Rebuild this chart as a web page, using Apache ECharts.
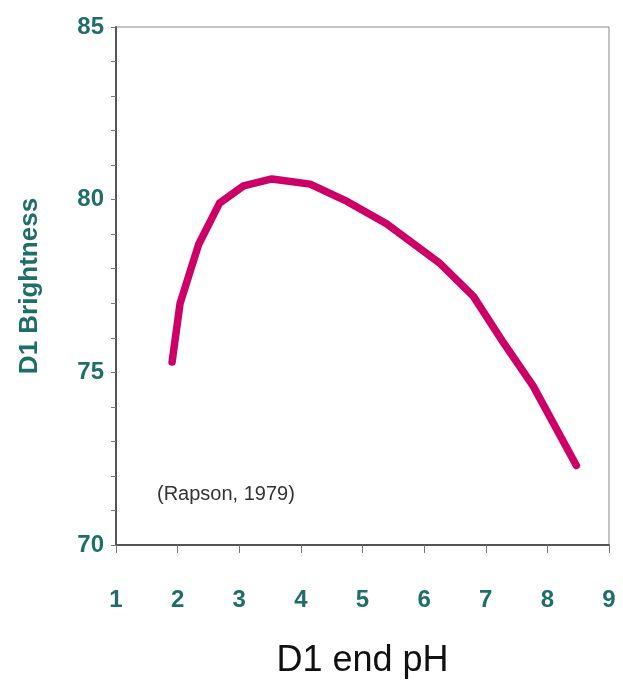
<!DOCTYPE html>
<html>
<head>
<meta charset="utf-8">
<script src="https://cdn.jsdelivr.net/npm/echarts@6/dist/echarts.min.js"></script>
<style>html,body{margin:0;padding:0;background:#fff;}#c{width:623px;height:680px;}</style>
</head>
<body>
<div id="c"></div>
<script>
var phValues = [1.91, 2.04, 2.34, 2.68, 3.07, 3.53, 4.15, 4.75, 5.39, 6.26, 6.80, 7.29, 7.77, 8.47];
var brightness = [75.3, 77.0, 78.7, 79.9, 80.4, 80.6, 80.45, 79.95, 79.3, 78.15, 77.2, 75.85, 74.6, 72.3];
var xTicks = [1, 2, 3, 4, 5, 6, 7, 8, 9];
var yTicks = [70, 75, 80, 85];
var annotation = '(Rapson, 1979)';

var teal = '#1f6e6a';
var chart = echarts.init(document.getElementById('c'), null, {renderer: 'canvas'});
chart.setOption({
  animation: false,
  backgroundColor: '#fff',
  grid: {left: 116, right: 14, top: 27, bottom: 135, show: true, borderColor: '#8a8a8a', borderWidth: 1, containLabel: false, outerBoundsMode: 'none'},
  xAxis: {
    type: 'value', min: xTicks[0], max: xTicks[xTicks.length - 1], interval: 1,
    name: 'D1 end pH', nameLocation: 'middle', nameGap: 98,
    nameTextStyle: {color: '#111', fontSize: 36, fontFamily: 'Liberation Sans, Arial'},
    axisLine: {show: true, lineStyle: {color: '#555', width: 2}},
    axisTick: {show: true, length: 8, lineStyle: {color: '#777'}},
    axisLabel: {color: teal, fontSize: 24, fontWeight: 'bold', fontFamily: 'Liberation Sans, Arial', margin: 43},
    splitLine: {show: false}
  },
  yAxis: {
    type: 'value', min: yTicks[0], max: yTicks[yTicks.length - 1], interval: 5,
    name: 'D1 Brightness', nameLocation: 'middle', nameGap: 73,
    nameTextStyle: {color: teal, fontSize: 26, fontWeight: 'bold', fontFamily: 'Liberation Sans, Arial'},
    axisLine: {show: true, lineStyle: {color: '#555', width: 2}},
    axisTick: {show: true, length: 5, lineStyle: {color: '#777'}},
    minorTick: {show: true, splitNumber: 5, length: 5, lineStyle: {color: '#777'}},
    axisLabel: {color: teal, fontSize: 24, fontWeight: 'bold', fontFamily: 'Liberation Sans, Arial', margin: 12, padding: [0, 0, 10, 0]},
    splitLine: {show: false}
  },
  series: [{
    type: 'line',
    data: phValues.map(function (x, i) { return [x, brightness[i]]; }),
    symbol: 'none',
    smooth: false,
    lineStyle: {color: '#cc0066', width: 7.5, cap: 'round', join: 'round'}
  }],
  graphic: [{
    type: 'text', left: 157, top: 484,
    style: {text: annotation, fill: '#333', fontSize: 20, fontFamily: 'Liberation Sans, Arial'}
  }]
});
</script>
</body>
</html>
